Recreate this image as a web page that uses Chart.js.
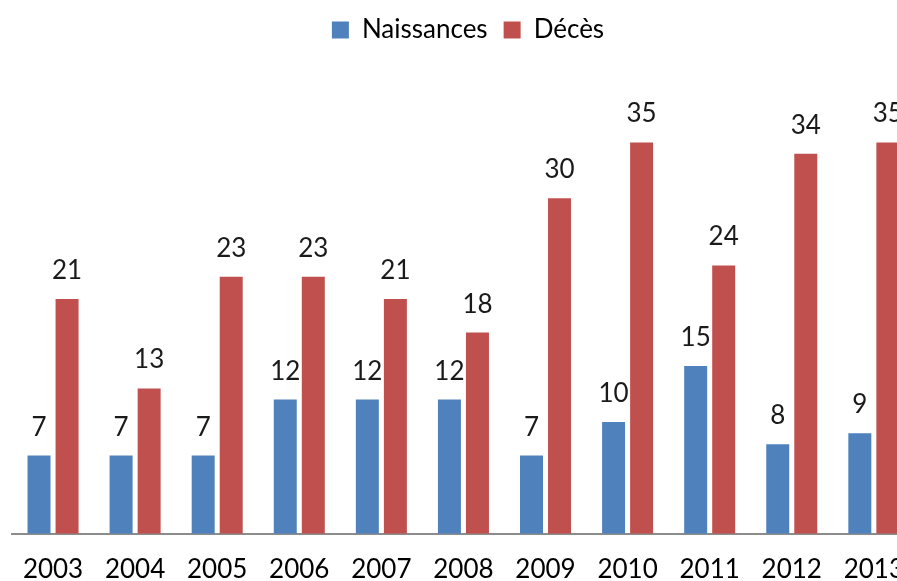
<!DOCTYPE html>
<html>
<head>
<meta charset="utf-8">
<script src="https://cdn.jsdelivr.net/npm/chart.js@4/dist/chart.umd.min.js"></script>
<style>
  html, body { margin: 0; padding: 0; background: #fff; overflow: hidden; }
  #wrap { width: 897px; height: 581px; overflow: hidden; position: relative; }
  #chart { position: absolute; left: 0; top: 0; }
</style>
</head>
<body>
<div id="wrap"><canvas id="chart" width="924" height="581"></canvas></div>
<script>
// Naissances / Décès par année
const years = ["2003", "2004", "2005", "2006", "2007", "2008", "2009", "2010", "2011", "2012", "2013"];
const naissances = [7, 7, 7, 12, 12, 12, 7, 10, 15, 8, 9];
const deces = [21, 13, 23, 23, 21, 18, 30, 35, 24, 34, 35];

const FONT = "Lato, 'Open Sans', sans-serif";

// value written above each bar
const barValues = {
  id: "barValues",
  afterDatasetsDraw(chart) {
    const ctx = chart.ctx;
    ctx.save();
    ctx.font = "26px " + FONT;
    ctx.fillStyle = "#1a1a1a";
    ctx.textAlign = "center";
    ctx.textBaseline = "alphabetic";
    chart.data.datasets.forEach((ds, i) => {
      chart.getDatasetMeta(i).data.forEach((bar, j) => {
        ctx.fillText(String(ds.data[j]), bar.x, bar.y - 20);
      });
    });
    ctx.restore();
  }
};

new Chart(document.getElementById("chart").getContext("2d"), {
  type: "bar",
  data: {
    labels: years,
    datasets: [
      { label: "Naissances", data: naissances, backgroundColor: "#4F81BD" },
      { label: "Décès", data: deces, backgroundColor: "#C0504D" }
    ]
  },
  options: {
    responsive: false,
    animation: false,
    categoryPercentage: 0.683,
    barPercentage: 0.82,
    layout: { padding: { left: 12, right: 0, top: 1, bottom: -24 } },
    plugins: {
      legend: {
        position: "top",
        labels: {
          color: "#000",
          font: { family: FONT, size: 26 },
          boxWidth: 17,
          boxHeight: 17,
          padding: 16
        }
      },
      tooltip: { enabled: false }
    },
    scales: {
      x: {
        grid: { display: false, drawTicks: false },
        border: { display: true, color: "#8c8c8c", width: 2 },
        ticks: { color: "#000", font: { family: FONT, size: 26 }, padding: 20 }
      },
      y: {
        display: false,
        min: 0,
        max: 43
      }
    }
  },
  plugins: [barValues]
});
</script>
</body>
</html>
